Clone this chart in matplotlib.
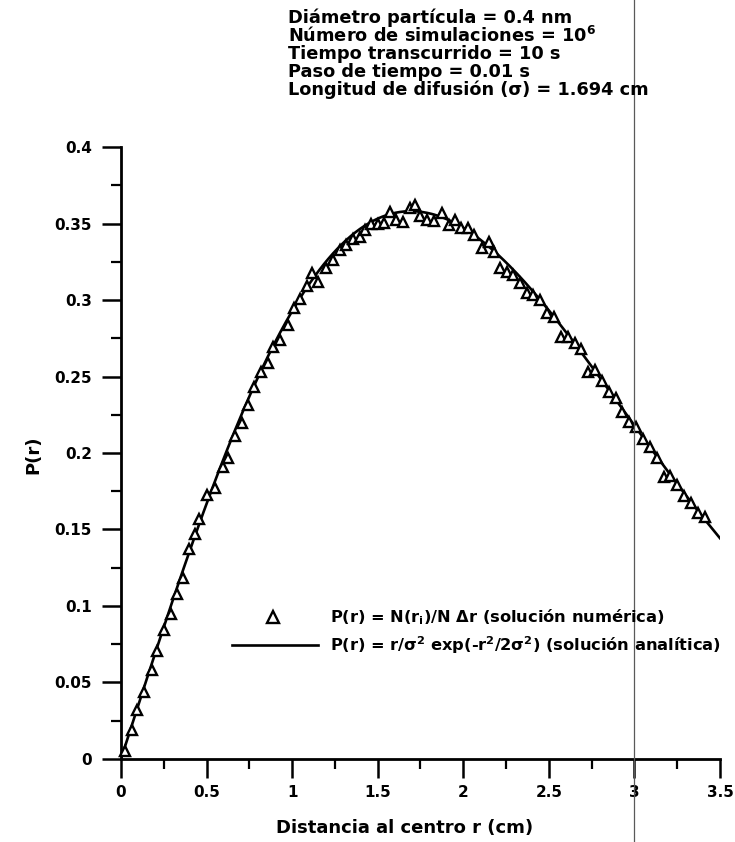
import numpy as np
import matplotlib
matplotlib.use("Agg")
import matplotlib.pyplot as plt
from matplotlib.lines import Line2D
from matplotlib.ticker import MultipleLocator, FuncFormatter

# Distribucion radial simulada (triangulos) y solucion analitica de Rayleigh
sigma = 1.694  # longitud de difusion (cm)

r_num = [0.023, 0.062, 0.092, 0.135, 0.179, 0.209, 0.253, 0.29, 0.326, 0.361,
         0.40, 0.433, 0.458, 0.501, 0.55, 0.595, 0.628, 0.667, 0.706, 0.745,
         0.778, 0.817, 0.861, 0.891, 0.93, 0.973, 1.008, 1.047, 1.086, 1.115,
         1.154, 1.199, 1.238, 1.277, 1.316, 1.355, 1.394, 1.427, 1.46, 1.50,
         1.538, 1.569, 1.608, 1.647, 1.686, 1.719, 1.75, 1.79, 1.83, 1.875,
         1.914, 1.95, 1.987, 2.025, 2.06, 2.11, 2.148, 2.18, 2.216, 2.256,
         2.29, 2.333, 2.372, 2.41, 2.45, 2.49, 2.53, 2.57, 2.61, 2.65,
         2.69, 2.73, 2.77, 2.81, 2.85, 2.89, 2.93, 2.97, 3.01, 3.05,
         3.09, 3.13, 3.17, 3.21, 3.25, 3.29, 3.33, 3.37, 3.41]
p_num = [0.005, 0.019, 0.032, 0.044, 0.058, 0.0705, 0.084, 0.095, 0.108, 0.118,
         0.137, 0.147, 0.157, 0.1725, 0.177, 0.191, 0.1965, 0.211, 0.2194, 0.2314,
         0.2433, 0.2531, 0.2586, 0.2695, 0.2739, 0.2837, 0.2946, 0.3005, 0.3092, 0.3174,
         0.312, 0.3207, 0.3261, 0.3326, 0.3359, 0.340, 0.3414, 0.3458, 0.350, 0.350,
         0.3505, 0.3577, 0.3526, 0.3512, 0.360, 0.362, 0.355, 0.352, 0.3516, 0.3566,
         0.349, 0.3526, 0.3468, 0.3468, 0.3425, 0.3338, 0.338, 0.3316, 0.3207, 0.3185,
         0.3163, 0.311, 0.3044, 0.3033, 0.300, 0.2913, 0.289, 0.276, 0.276, 0.272,
         0.268, 0.253, 0.254, 0.247, 0.240, 0.236, 0.227, 0.220, 0.217, 0.209,
         0.204, 0.197, 0.184, 0.185, 0.179, 0.172, 0.167, 0.161, 0.158]

info_lines = ["Diámetro partícula = 0.4 nm",
              "Número de simulaciones = 10$^6$",
              "Tiempo transcurrido = 10 s",
              "Paso de tiempo = 0.01 s",
              "Longitud de difusión (σ) = 1.694 cm"]

lbl_num = "P(r) = N(r$_i$)/N Δr (solución numérica)"
lbl_ana = "P(r) = r/σ$^2$ exp(-r$^2$/2σ$^2$) (solución analítica)"

plt.rcParams['font.family'] = ['DejaVu Sans']
plt.rcParams['font.weight'] = 'bold'
plt.rcParams['mathtext.fontset'] = 'dejavusans'
plt.rcParams['mathtext.default'] = 'bf'

fig = plt.figure(figsize=(7.35, 8.42), dpi=100)
ax = fig.add_axes([0.1646, 0.0986, 0.8150, 0.7268])

r = np.linspace(0, 3.5, 400)
p = r / sigma**2 * np.exp(-r**2 / (2 * sigma**2))
ax.plot(r, p, color='black', lw=1.9, zorder=2)
ax.plot(r_num, p_num, linestyle='none', marker='^', ms=7, mfc='white',
        mec='black', mew=1.7, zorder=3, clip_on=False)

ax.set_xlim(0, 3.5)
ax.set_ylim(0, 0.4)
ax.xaxis.set_major_locator(MultipleLocator(0.5))
ax.xaxis.set_minor_locator(MultipleLocator(0.25))
ax.yaxis.set_major_locator(MultipleLocator(0.05))
ax.yaxis.set_minor_locator(MultipleLocator(0.025))
fmt = FuncFormatter(lambda v, pos: '%g' % round(v, 3))
ax.xaxis.set_major_formatter(fmt)
ax.yaxis.set_major_formatter(fmt)

for s in ['top', 'right']:
    ax.spines[s].set_visible(False)
for s in ['left', 'bottom']:
    ax.spines[s].set_linewidth(2)
ax.tick_params(which='major', direction='out', length=14, width=1.8, labelsize=11)
ax.tick_params(which='minor', direction='out', length=7, width=1.6)
ax.tick_params(axis='y', which='major', pad=7)
ax.tick_params(axis='x', which='major', pad=5)

fig.text(0.045, 0.46, "P(r)", rotation=90, ha='center', va='center', fontsize=13)
fig.text(0.55, 1 - 828 / 842, "Distancia al centro r (cm)", ha='center', va='center',
         fontsize=13)

y0 = 842.0
for i, t in enumerate(info_lines):
    fig.text(288 / 735, 1 - (18 + 18 * i) / y0, t, ha='left', va='center', fontsize=12.8)

# leyenda manual
fig.add_artist(Line2D([273 / 735], [1 - 617 / y0], marker='^', ms=8, mfc='white',
                      mec='black', mew=1.7, linestyle='none'))
fig.text(330 / 735, 1 - 617 / y0, lbl_num, ha='left', va='center', fontsize=11.7)
fig.add_artist(Line2D([232 / 735, 318 / 735], [1 - 645 / y0, 1 - 645 / y0],
                      color='black', lw=1.9))
fig.text(330 / 735, 1 - 645 / y0, lbl_ana, ha='left', va='center', fontsize=11.7)

# raya vertical del escaneo
fig.add_artist(Line2D([634 / 735, 634 / 735], [0, 1], color='0.35', lw=0.9))

fig.savefig('out.png', dpi=100)
